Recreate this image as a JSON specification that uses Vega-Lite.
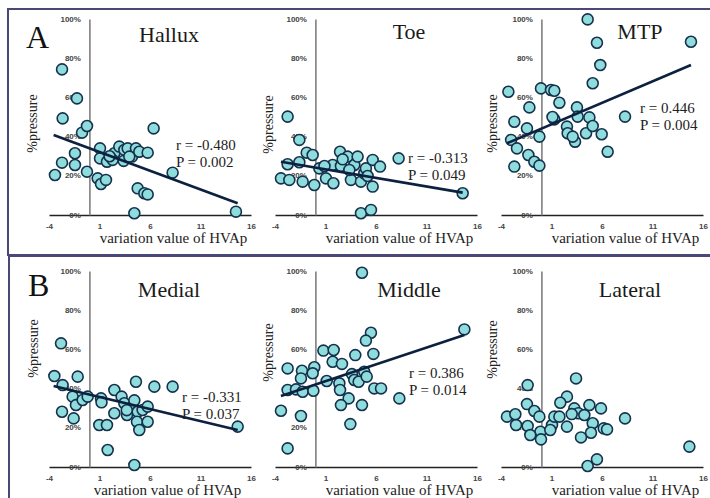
{
  "$schema": "https://vega.github.io/schema/vega-lite/v6.json",
  "background": "white",
  "padding": {"left": 6, "top": 8, "right": 0, "bottom": 0},
  "config": {
    "view": {"stroke": null},
    "axis": {"labelFont": "Liberation Sans", "labelFontWeight": "bold", "labelFontSize": 8, "labelColor": "#444", "ticks": false, "grid": false, "titleFont": "Liberation Serif", "titleFontWeight": "normal", "titleColor": "#222", "labelOverlap": false, "labelFlush": false, "zindex": 0},
    "axisX": {"titleY": 27.5, "titleBaseline": "alphabetic", "titleAlign": "center", "titleFontSize": 15, "labelPadding": 7.5, "domainColor": "#222", "domainWidth": 1.5, "tickCount": 10},
    "axisY": {"offset": -40.4, "titleAngle": 270, "titleAlign": "center", "titleBaseline": "middle", "titleFontSize": 14, "labelPadding": 9, "domainColor": "#777", "domainWidth": 1.5, "tickCount": 10},
    "circle": {"size": 120, "fill": "#8fdcdc", "stroke": "#15314d", "strokeWidth": 1.6, "opacity": 1},
    "line": {"color": "#0c2040", "strokeWidth": 2.6},
    "text": {"font": "Liberation Serif", "fontSize": 15, "color": "#222", "align": "left", "baseline": "middle", "lineHeight": 17},
    "rect": {"fill": null, "fillOpacity": 0, "stroke": "#4a4874", "strokeWidth": 2}
  },
  "datasets": {
    "hallux": [
      {"x": -2.71, "y": 0.743}, {"x": -1.23, "y": 0.595}, {"x": -2.65, "y": 0.493}, {"x": -0.73, "y": 0.42}, {"x": -0.24, "y": 0.454},
      {"x": 6.36, "y": 0.442}, {"x": 1.05, "y": 0.34}, {"x": -1.43, "y": 0.315}, {"x": -2.71, "y": 0.267}, {"x": -1.43, "y": 0.255},
      {"x": -3.41, "y": 0.204}, {"x": -0.24, "y": 0.221}, {"x": 0.82, "y": 0.187}, {"x": 1.15, "y": 0.158}, {"x": 1.64, "y": 0.179},
      {"x": 1.05, "y": 0.289}, {"x": 1.74, "y": 0.272}, {"x": 2.47, "y": 0.315}, {"x": 2.96, "y": 0.349}, {"x": 3.46, "y": 0.332},
      {"x": 3.79, "y": 0.34}, {"x": 4.22, "y": 0.298}, {"x": 4.61, "y": 0.34}, {"x": 4.94, "y": 0.323}, {"x": 5.77, "y": 0.318},
      {"x": 3.39, "y": 0.276}, {"x": 2.3, "y": 0.281}, {"x": 4.78, "y": 0.136}, {"x": 5.44, "y": 0.111}, {"x": 5.77, "y": 0.105},
      {"x": 4.45, "y": 0.009}, {"x": 8.24, "y": 0.216}, {"x": 14.51, "y": 0.017}, {"x": 3.95, "y": 0.298}, {"x": 2.0, "y": 0.3}
    ],
    "toe": [
      {"x": -2.75, "y": 0.502}, {"x": -1.59, "y": 0.383}, {"x": -0.86, "y": 0.318}, {"x": -0.27, "y": 0.306}, {"x": -2.75, "y": 0.259},
      {"x": -1.59, "y": 0.269}, {"x": -3.41, "y": 0.187}, {"x": -2.58, "y": 0.179}, {"x": -1.26, "y": 0.17}, {"x": -0.11, "y": 0.153},
      {"x": 1.05, "y": 0.187}, {"x": 1.71, "y": 0.255}, {"x": 1.78, "y": 0.162}, {"x": 2.44, "y": 0.323}, {"x": 2.53, "y": 0.25},
      {"x": 3.19, "y": 0.298}, {"x": 3.52, "y": 0.179}, {"x": 3.85, "y": 0.255}, {"x": 4.18, "y": 0.298}, {"x": 4.51, "y": 0.17},
      {"x": 4.84, "y": 0.213}, {"x": 5.0, "y": 0.238}, {"x": 5.67, "y": 0.281}, {"x": 5.67, "y": 0.145}, {"x": 6.4, "y": 0.247},
      {"x": 8.24, "y": 0.289}, {"x": 4.51, "y": 0.009}, {"x": 5.5, "y": 0.026}, {"x": 14.58, "y": 0.111}, {"x": 2.7, "y": 0.284},
      {"x": 3.36, "y": 0.23}, {"x": 5.17, "y": 0.199}, {"x": 0.39, "y": 0.238}, {"x": 0.9, "y": 0.25}
    ],
    "mtp": [
      {"x": 4.58, "y": 0.998}, {"x": 5.5, "y": 0.879}, {"x": 14.81, "y": 0.884}, {"x": 5.83, "y": 0.765}, {"x": 5.08, "y": 0.672},
      {"x": -3.27, "y": 0.629}, {"x": -0.04, "y": 0.646}, {"x": 0.95, "y": 0.638}, {"x": 1.28, "y": 0.634}, {"x": 1.78, "y": 0.573},
      {"x": -1.19, "y": 0.549}, {"x": -2.68, "y": 0.476}, {"x": -1.43, "y": 0.442}, {"x": -0.2, "y": 0.4}, {"x": -3.0, "y": 0.383},
      {"x": -2.42, "y": 0.34}, {"x": -1.29, "y": 0.306}, {"x": -0.7, "y": 0.272}, {"x": -0.2, "y": 0.252}, {"x": -2.68, "y": 0.247},
      {"x": 1.28, "y": 0.488}, {"x": 2.53, "y": 0.451}, {"x": 2.6, "y": 0.417}, {"x": 3.52, "y": 0.549}, {"x": 3.59, "y": 0.502},
      {"x": 3.33, "y": 0.374}, {"x": 4.42, "y": 0.417}, {"x": 4.75, "y": 0.498}, {"x": 5.08, "y": 0.454}, {"x": 5.97, "y": 0.412},
      {"x": 6.56, "y": 0.323}, {"x": 8.28, "y": 0.502}, {"x": 3.1, "y": 0.4}, {"x": 1.1, "y": 0.5}
    ],
    "medial": [
      {"x": -2.81, "y": 0.631}, {"x": -3.47, "y": 0.464}, {"x": -2.65, "y": 0.418}, {"x": -1.16, "y": 0.461}, {"x": -1.66, "y": 0.359},
      {"x": -1.33, "y": 0.316}, {"x": -2.71, "y": 0.282}, {"x": -1.56, "y": 0.248}, {"x": -0.67, "y": 0.342}, {"x": -0.17, "y": 0.359},
      {"x": 1.15, "y": 0.35}, {"x": 0.98, "y": 0.214}, {"x": 1.74, "y": 0.214}, {"x": 1.81, "y": 0.087}, {"x": 2.47, "y": 0.393},
      {"x": 3.19, "y": 0.359}, {"x": 2.47, "y": 0.274}, {"x": 3.46, "y": 0.325}, {"x": 3.72, "y": 0.265}, {"x": 4.28, "y": 0.308},
      {"x": 4.61, "y": 0.435}, {"x": 4.45, "y": 0.34}, {"x": 4.78, "y": 0.282}, {"x": 4.71, "y": 0.231}, {"x": 4.94, "y": 0.189},
      {"x": 5.27, "y": 0.291}, {"x": 5.77, "y": 0.308}, {"x": 5.77, "y": 0.231}, {"x": 6.43, "y": 0.41}, {"x": 8.24, "y": 0.41},
      {"x": 4.45, "y": 0.01}, {"x": 14.68, "y": 0.206}, {"x": 3.7, "y": 0.29}, {"x": 1.2, "y": 0.33}
    ],
    "middle": [
      {"x": 4.61, "y": 0.991}, {"x": 14.75, "y": 0.702}, {"x": 5.5, "y": 0.685}, {"x": 5.0, "y": 0.645}, {"x": 0.79, "y": 0.594},
      {"x": 1.81, "y": 0.597}, {"x": 1.71, "y": 0.537}, {"x": 2.63, "y": 0.526}, {"x": 3.95, "y": 0.571}, {"x": 5.74, "y": 0.577},
      {"x": -2.75, "y": 0.503}, {"x": -1.33, "y": 0.491}, {"x": -0.11, "y": 0.509}, {"x": -0.27, "y": 0.478}, {"x": -1.43, "y": 0.452},
      {"x": -2.75, "y": 0.393}, {"x": -1.92, "y": 0.396}, {"x": -1.26, "y": 0.384}, {"x": -0.2, "y": 0.389}, {"x": 1.12, "y": 0.439},
      {"x": 2.37, "y": 0.427}, {"x": 2.44, "y": 0.393}, {"x": 3.62, "y": 0.474}, {"x": 3.85, "y": 0.444}, {"x": 4.28, "y": 0.435},
      {"x": 4.84, "y": 0.486}, {"x": 5.08, "y": 0.461}, {"x": 5.83, "y": 0.401}, {"x": 6.5, "y": 0.401}, {"x": 3.29, "y": 0.35},
      {"x": 2.53, "y": 0.316}, {"x": 4.61, "y": 0.316}, {"x": 8.31, "y": 0.35}, {"x": -3.41, "y": 0.287}, {"x": -1.43, "y": 0.26},
      {"x": 3.46, "y": 0.219}, {"x": -2.75, "y": 0.095}
    ],
    "lateral": [
      {"x": 3.43, "y": 0.452}, {"x": -1.36, "y": 0.418}, {"x": 2.53, "y": 0.359}, {"x": 1.87, "y": 0.328}, {"x": -1.43, "y": 0.321},
      {"x": -0.7, "y": 0.286}, {"x": -0.2, "y": 0.257}, {"x": -3.41, "y": 0.257}, {"x": -2.58, "y": 0.269}, {"x": -2.51, "y": 0.214},
      {"x": -1.36, "y": 0.209}, {"x": -0.1, "y": 0.18}, {"x": -1.1, "y": 0.163}, {"x": -0.04, "y": 0.141}, {"x": 1.05, "y": 0.214},
      {"x": 1.28, "y": 0.257}, {"x": 1.78, "y": 0.257}, {"x": 2.53, "y": 0.206}, {"x": 3.26, "y": 0.299}, {"x": 3.66, "y": 0.274},
      {"x": 4.25, "y": 0.265}, {"x": 4.75, "y": 0.316}, {"x": 5.9, "y": 0.299}, {"x": 5.08, "y": 0.223}, {"x": 4.91, "y": 0.175},
      {"x": 3.92, "y": 0.151}, {"x": 6.17, "y": 0.197}, {"x": 6.5, "y": 0.192}, {"x": 8.28, "y": 0.248}, {"x": 4.58, "y": 0.005},
      {"x": 5.5, "y": 0.039}, {"x": 14.65, "y": 0.104}, {"x": 0.88, "y": 0.189}, {"x": 3.0, "y": 0.27}
    ],
    "fit_hallux": [{"x": -3.54, "y": 0.408}, {"x": 14.68, "y": 0.06}],
    "fit_toe": [{"x": -3.41, "y": 0.272}, {"x": 14.58, "y": 0.114}],
    "fit_mtp": [{"x": -3.41, "y": 0.366}, {"x": 14.81, "y": 0.765}],
    "fit_medial": [{"x": -3.54, "y": 0.413}, {"x": 14.68, "y": 0.189}],
    "fit_middle": [{"x": -3.41, "y": 0.362}, {"x": 14.75, "y": 0.673}],
    "info_hallux": [{"group": "A", "name": "Hallux", "stat": ["r = -0.480", "P = 0.002"]}],
    "info_toe": [{"name": "Toe", "stat": ["r = -0.313", "P = 0.049"]}],
    "info_mtp": [{"name": "MTP", "stat": ["r = 0.446", "P = 0.004"]}],
    "info_medial": [{"group": "B", "name": "Medial", "stat": ["r = -0.331", "P = 0.037"]}],
    "info_middle": [{"name": "Middle", "stat": ["r = 0.386", "P = 0.014"]}],
    "info_lateral": [{"name": "Lateral"}]
  },
  "columns": 3,
  "spacing": {"row": 56, "column": 24},
  "bounds": "flush",
  "concat": [
    {
      "width": 202, "height": 196,
      "layer": [
        {"data": {"name": "info_hallux"}, "mark": "rect",
         "encoding": {"x": {"datum": -8.06}, "x2": {"datum": 61.6}, "y": {"datum": 1.051}, "y2": {"datum": -0.204}}},
        {"data": {"name": "info_hallux"}, "mark": {"type": "text", "fontSize": 32, "baseline": "alphabetic", "color": "#111"},
         "encoding": {"x": {"datum": -6.28}, "y": {"datum": 0.85}, "text": {"field": "group"}}},
        {"data": {"name": "info_hallux"}, "mark": {"type": "text", "fontSize": 22, "align": "center", "baseline": "alphabetic", "color": "#1a1a1a"},
         "encoding": {"x": {"datum": 7.88}, "y": {"datum": 0.884}, "text": {"field": "name"}}},
        {"data": {"name": "hallux"}, "mark": "circle",
         "encoding": {"x": {"field": "x", "type": "quantitative", "scale": {"domain": [-4, 16]}, "axis": {"values": [-4, 1, 6, 11, 16], "labelExpr": "'' + datum.value", "labelOverlap": false, "title": "variation value of HVAp", "titleX": 124}},
                      "y": {"field": "y", "type": "quantitative", "scale": {"domain": [0, 1]}, "axis": {"values": [0, 0.2, 0.4, 0.6, 0.8, 1], "tickCount": 10, "format": ".0%", "labelOverlap": false, "title": "%pressure", "titleX": -57, "titleY": 104}}}},
        {"data": {"name": "fit_hallux"}, "mark": "line",
         "encoding": {"x": {"field": "x", "type": "quantitative"}, "y": {"field": "y", "type": "quantitative"}}},
        {"data": {"name": "info_hallux"}, "mark": "text",
         "encoding": {"x": {"datum": 8.57}, "y": {"datum": 0.357}, "text": {"field": "stat"}}}
      ]
    },
    {
      "width": 202, "height": 196,
      "layer": [
        {"data": {"name": "info_toe"}, "mark": {"type": "text", "fontSize": 22, "align": "center", "baseline": "alphabetic", "color": "#1a1a1a"},
         "encoding": {"x": {"datum": 9.27}, "y": {"datum": 0.896}, "text": {"field": "name"}}},
        {"data": {"name": "toe"}, "mark": "circle",
         "encoding": {"x": {"field": "x", "type": "quantitative", "scale": {"domain": [-4, 16]}, "axis": {"values": [-4, 1, 6, 11, 16], "labelExpr": "'' + datum.value", "labelOverlap": false, "title": "variation value of HVAp", "titleX": 124}},
                      "y": {"field": "y", "type": "quantitative", "scale": {"domain": [0, 1]}, "axis": {"values": [0, 0.2, 0.4, 0.6, 0.8, 1], "tickCount": 10, "format": ".0%", "labelOverlap": false, "title": "%pressure", "titleX": -47, "titleY": 105}}}},
        {"data": {"name": "fit_toe"}, "mark": "line",
         "encoding": {"x": {"field": "x", "type": "quantitative"}, "y": {"field": "y", "type": "quantitative"}}},
        {"data": {"name": "info_toe"}, "mark": "text",
         "encoding": {"x": {"datum": 9.17}, "y": {"datum": 0.293}, "text": {"field": "stat"}}}
      ]
    },
    {
      "width": 202, "height": 196,
      "layer": [
        {"data": {"name": "info_mtp"}, "mark": {"type": "text", "fontSize": 22, "align": "center", "baseline": "alphabetic", "color": "#1a1a1a"},
         "encoding": {"x": {"datum": 9.76}, "y": {"datum": 0.896}, "text": {"field": "name"}}},
        {"data": {"name": "mtp"}, "mark": "circle",
         "encoding": {"x": {"field": "x", "type": "quantitative", "scale": {"domain": [-4, 16]}, "axis": {"values": [-4, 1, 6, 11, 16], "labelExpr": "'' + datum.value", "labelOverlap": false, "title": "variation value of HVAp", "titleX": 124}},
                      "y": {"field": "y", "type": "quantitative", "scale": {"domain": [0, 1]}, "axis": {"values": [0, 0.2, 0.4, 0.6, 0.8, 1], "tickCount": 10, "format": ".0%", "labelOverlap": false, "title": "%pressure", "titleX": -49, "titleY": 104}}}},
        {"data": {"name": "fit_mtp"}, "mark": "line",
         "encoding": {"x": {"field": "x", "type": "quantitative"}, "y": {"field": "y", "type": "quantitative"}}},
        {"data": {"name": "info_mtp"}, "mark": "text",
         "encoding": {"x": {"datum": 9.76}, "y": {"datum": 0.548}, "text": {"field": "stat"}}}
      ]
    },
    {
      "width": 202, "height": 196,
      "layer": [
        {"data": {"name": "info_medial"}, "mark": "rect",
         "encoding": {"x": {"datum": -7.96}, "x2": {"datum": 61.6}, "y": {"datum": 1.0765}, "y2": {"datum": -0.3}}},
        {"data": {"name": "info_medial"}, "mark": {"type": "text", "fontSize": 32, "baseline": "alphabetic", "color": "#111"},
         "encoding": {"x": {"datum": -6.08}, "y": {"datum": 0.87}, "text": {"field": "group"}}},
        {"data": {"name": "info_medial"}, "mark": {"type": "text", "fontSize": 22, "align": "center", "baseline": "alphabetic", "color": "#1a1a1a"},
         "encoding": {"x": {"datum": 7.88}, "y": {"datum": 0.869}, "text": {"field": "name"}}},
        {"data": {"name": "medial"}, "mark": "circle",
         "encoding": {"x": {"field": "x", "type": "quantitative", "scale": {"domain": [-4, 16]}, "axis": {"values": [-4, 1, 6, 11, 16], "labelExpr": "'' + datum.value", "labelOverlap": false, "title": "variation value of HVAp", "titleX": 118}},
                      "y": {"field": "y", "type": "quantitative", "scale": {"domain": [0, 1]}, "axis": {"values": [0, 0.2, 0.4, 0.6, 0.8, 1], "tickCount": 10, "format": ".0%", "labelOverlap": false, "title": "%pressure", "titleX": -56, "titleY": 77}}}},
        {"data": {"name": "fit_medial"}, "mark": "line",
         "encoding": {"x": {"field": "x", "type": "quantitative"}, "y": {"field": "y", "type": "quantitative"}}},
        {"data": {"name": "info_medial"}, "mark": "text",
         "encoding": {"x": {"datum": 9.17}, "y": {"datum": 0.355}, "text": {"field": "stat"}}}
      ]
    },
    {
      "width": 202, "height": 196,
      "layer": [
        {"data": {"name": "info_middle"}, "mark": {"type": "text", "fontSize": 22, "align": "center", "baseline": "alphabetic", "color": "#1a1a1a"},
         "encoding": {"x": {"datum": 9.27}, "y": {"datum": 0.869}, "text": {"field": "name"}}},
        {"data": {"name": "middle"}, "mark": "circle",
         "encoding": {"x": {"field": "x", "type": "quantitative", "scale": {"domain": [-4, 16]}, "axis": {"values": [-4, 1, 6, 11, 16], "labelExpr": "'' + datum.value", "labelOverlap": false, "title": "variation value of HVAp", "titleX": 124}},
                      "y": {"field": "y", "type": "quantitative", "scale": {"domain": [0, 1]}, "axis": {"values": [0, 0.2, 0.4, 0.6, 0.8, 1], "tickCount": 10, "format": ".0%", "labelOverlap": false, "title": "%pressure", "titleX": -47, "titleY": 81}}}},
        {"data": {"name": "fit_middle"}, "mark": "line",
         "encoding": {"x": {"field": "x", "type": "quantitative"}, "y": {"field": "y", "type": "quantitative"}}},
        {"data": {"name": "info_middle"}, "mark": "text",
         "encoding": {"x": {"datum": 9.27}, "y": {"datum": 0.482}, "text": {"field": "stat"}}}
      ]
    },
    {
      "width": 202, "height": 196,
      "layer": [
        {"data": {"name": "info_lateral"}, "mark": {"type": "text", "fontSize": 22, "align": "center", "baseline": "alphabetic", "color": "#1a1a1a"},
         "encoding": {"x": {"datum": 8.77}, "y": {"datum": 0.869}, "text": {"field": "name"}}},
        {"data": {"name": "lateral"}, "mark": "circle",
         "encoding": {"x": {"field": "x", "type": "quantitative", "scale": {"domain": [-4, 16]}, "axis": {"values": [-4, 1, 6, 11, 16], "labelExpr": "'' + datum.value", "labelOverlap": false, "title": "variation value of HVAp", "titleX": 124}},
                      "y": {"field": "y", "type": "quantitative", "scale": {"domain": [0, 1]}, "axis": {"values": [0, 0.2, 0.4, 0.6, 0.8, 1], "tickCount": 10, "format": ".0%", "labelOverlap": false, "title": "%pressure", "titleX": -49, "titleY": 78}}}}
      ]
    }
  ]
}
